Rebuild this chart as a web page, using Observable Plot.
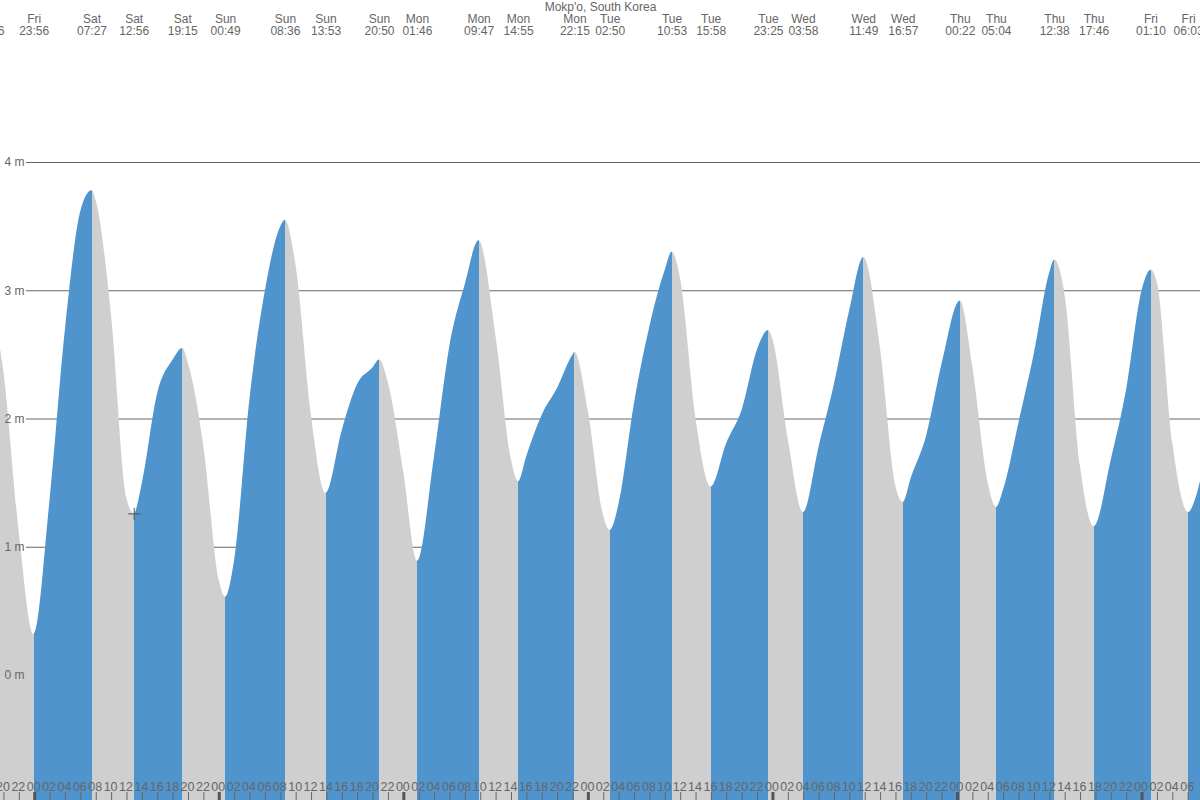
<!DOCTYPE html>
<html><head><meta charset="utf-8">
<script src="https://cdn.jsdelivr.net/npm/d3@7"></script>
<script src="https://cdn.jsdelivr.net/npm/@observablehq/plot@0.6"></script>
<style>html,body{margin:0;padding:0;background:#fff;overflow:hidden}</style>
</head><body><div id="chart"></div>
<script>
// ---- data ----
const title = "Mokp'o, South Korea";
const extremeTimes = ["Fri 18:06","Fri 23:56","Sat 07:27","Sat 12:56","Sat 19:15","Sun 00:49","Sun 08:36","Sun 13:53","Sun 20:50","Mon 01:46","Mon 09:47","Mon 14:55","Mon 22:15","Tue 02:50","Tue 10:53","Tue 15:58","Tue 23:25","Wed 03:58","Wed 11:49","Wed 16:57","Thu 00:22","Thu 05:04","Thu 12:38","Thu 17:46","Fri 01:10","Fri 06:03"];
const extremeHeights = [2.95,0.32,3.78,1.26,2.55,0.61,3.55,1.42,2.46,0.89,3.39,1.51,2.52,1.13,3.30,1.47,2.69,1.27,3.26,1.35,2.92,1.31,3.24,1.16,3.16,1.27];
const sampleTimes = ["Fri 20:00","Fri 22:00",
 "Sat 02:00","Sat 04:00","Sat 06:00","Sat 08:00","Sat 10:00","Sat 12:00","Sat 14:00","Sat 16:00","Sat 18:00","Sat 20:00","Sat 22:00",
 "Sun 00:00","Sun 02:00","Sun 04:00","Sun 06:00","Sun 08:00","Sun 10:00","Sun 12:00","Sun 16:00","Sun 18:00","Sun 20:00","Sun 22:00",
 "Mon 00:00","Mon 04:00","Mon 06:00","Mon 08:00","Mon 12:00","Mon 14:00","Mon 16:00","Mon 18:00","Mon 20:00","Mon 22:00",
 "Tue 00:00","Tue 02:00","Tue 04:00","Tue 06:00","Tue 08:00","Tue 10:00","Tue 12:00","Tue 14:00","Tue 18:00","Tue 20:00","Tue 22:00",
 "Wed 00:00","Wed 02:00","Wed 06:00","Wed 08:00","Wed 10:00","Wed 14:00","Wed 16:00","Wed 18:00","Wed 20:00","Wed 22:00",
 "Thu 02:00","Thu 04:00","Thu 06:00","Thu 08:00","Thu 10:00","Thu 12:00","Thu 14:00","Thu 16:00","Thu 20:00","Thu 22:00",
 "Fri 00:00","Fri 02:00","Fri 04:00","Fri 07:00","Fri 08:00"];
const sampleHeights = [2.36,1.11,
 1.37,2.70,3.62,3.70,2.80,1.38,1.50,2.20,2.46,2.43,1.78,
 0.74,0.90,2.16,3.00,3.50,3.19,2.02,1.91,2.27,2.40,2.28,
 1.58,1.71,2.57,3.05,2.64,1.68,1.71,2.03,2.24,2.50,
 2.06,1.24,1.34,2.12,2.72,3.16,3.09,2.00,1.81,2.07,2.54,
 2.62,1.84,1.78,2.27,2.85,2.54,1.47,1.54,1.87,2.43,
 2.40,1.50,1.45,1.97,2.51,3.14,2.96,1.63,1.68,2.23,
 3.00,3.06,1.81,1.38,1.62];
const heightTicks = [0,1,2,3,4];
const viewHours = [-4.45, 151.6];   // hours from Sat 00:00 shown in the window
const hoverTime = "Sat 12:56";

// ---- helpers ----
function parseSeq(list){
  let day = -1, prev = "Fri";
  return list.map(s => {
    const [name, hm] = s.split(" ");
    if (name !== prev) { day++; prev = name; }
    const [hh, mm] = hm.split(":").map(Number);
    return day*24 + hh + mm/60;
  });
}
const exH = parseSeq(extremeTimes);
const extremes = extremeTimes.map((t,i) => ({day: t.split(" ")[0], time: t.split(" ")[1], h: exH[i], v: extremeHeights[i]}));
extremes.forEach((e,i) => { e.high = i === 0 ? e.v > extremes[1].v : e.v > extremes[i-1].v; });
const smH = parseSeq(sampleTimes);
const series = extremes.map(e => ({h: e.h, v: e.v}))
  .concat(sampleTimes.map((t,i) => ({h: smH[i], v: sampleHeights[i]})))
  .sort((a,b) => a.h - b.h);
const hourTicks = d3.range(Math.ceil(viewHours[0]/2)*2, viewHours[1], 2);
const hod = n => ((n % 24) + 24) % 24;
const pad = n => String(hod(n)).padStart(2, "0");
const hover = extremes.find(e => `${e.day} ${e.time}` === hoverTime);

const RISING = "#4f94cd", FALLING = "#cfcfcf", INK = "#666";
const font = "'Liberation Sans', Arial, Helvetica, sans-serif";

const chart = Plot.plot({
  width: 1200, height: 800, margin: 0,
  style: {fontFamily: font, fontSize: "12px", background: "#fff", overflow: "hidden"},
  x: {domain: viewHours, axis: null},
  y: {domain: [0, 4], range: [675, 162], axis: null},
  marks: [
    Plot.tickY(heightTicks, {y: d => d, stroke: INK, strokeWidth: 1, insetLeft: 26}),
    Plot.areaY(series, {x: "h", y1: () => -1, y2: "v", curve: "monotone-x", fill: "url(#tideFill)", clip: true}),
    Plot.text(heightTicks, {y: d => d, text: d => `${d} m`, frameAnchor: "left", dx: 24, textAnchor: "end", lineAnchor: "middle", fill: INK, fontSize: 12}),
    Plot.dot([hover], {x: "h", y: "v", symbol: "plus", r: 4, stroke: "#555", strokeWidth: 1}),
    Plot.text([title], {text: d => d, frameAnchor: "top", dy: 7, lineAnchor: "middle", fill: INK, fontSize: 12}),
    Plot.text(extremes, {x: "h", text: "day", frameAnchor: "top", dy: 19, lineAnchor: "middle", fill: INK, fontSize: 12}),
    Plot.text(extremes, {x: "h", text: "time", frameAnchor: "top", dy: 31, lineAnchor: "middle", fill: INK, fontSize: 12}),
    Plot.tickX(hourTicks.filter(h => hod(h) !== 0), {x: d => d, insetTop: 792, stroke: INK, strokeWidth: 1}),
    Plot.tickX(hourTicks.filter(h => hod(h) === 0), {x: d => d, insetTop: 792, stroke: "#555", strokeWidth: 3}),
    Plot.text(hourTicks, {x: d => d, text: d => pad(d), frameAnchor: "bottom", dy: -14, dx: -1, lineAnchor: "middle", fill: INK, fontSize: 12.5})
  ]
});

// hard-stop gradient: blue while rising, grey while falling, split at each extreme
const xs = chart.scale("x");
const W = 1200;
const svg = d3.select(chart);
const grad = svg.insert("defs", ":first-child").append("linearGradient")
  .attr("id", "tideFill").attr("gradientUnits", "userSpaceOnUse")
  .attr("x1", 0).attr("y1", 0).attr("x2", W).attr("y2", 0);
let color = extremes[0].high ? RISING : FALLING;
grad.append("stop").attr("offset", 0).attr("stop-color", color);
for (const e of extremes) {
  const off = Math.max(0, Math.min(1, xs.apply(e.h) / W));
  grad.append("stop").attr("offset", off).attr("stop-color", color);
  color = e.high ? FALLING : RISING;
  grad.append("stop").attr("offset", off).attr("stop-color", color);
}
grad.append("stop").attr("offset", 1).attr("stop-color", color);

document.getElementById("chart").appendChild(chart);
</script>
</body></html>
